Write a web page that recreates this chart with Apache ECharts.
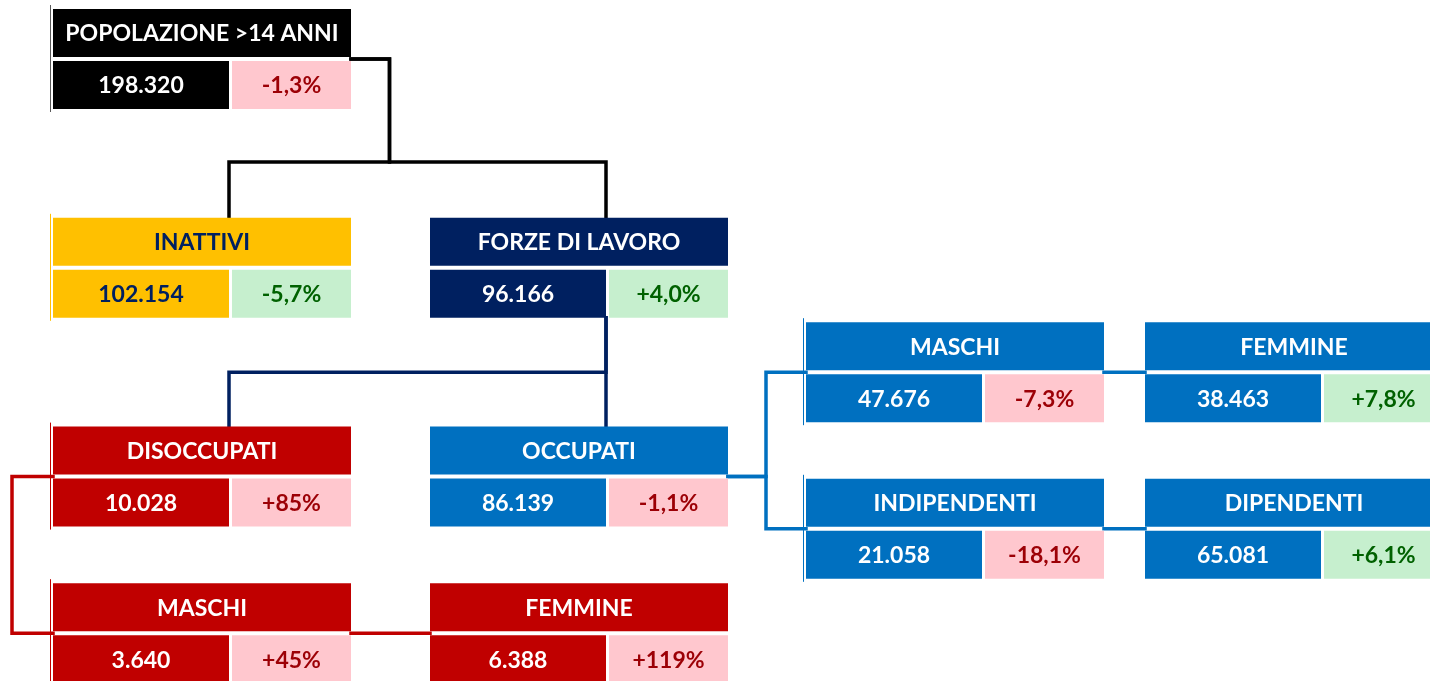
<!DOCTYPE html>
<html>
<head>
<meta charset="utf-8">
<script src="https://cdn.jsdelivr.net/npm/echarts@6/dist/echarts.min.js"></script>
<style>
html, body { margin: 0; padding: 0; background: #fff; }
#chart { width: 1430px; height: 681px; }
</style>
</head>
<body>
<div id="chart"></div>
<script>
// nodi del diagramma
const labels = ['POPOLAZIONE >14 ANNI', 'INATTIVI', 'FORZE DI LAVORO', 'DISOCCUPATI', 'OCCUPATI', 'MASCHI', 'FEMMINE', 'MASCHI', 'FEMMINE', 'INDIPENDENTI', 'DIPENDENTI'];
const values = [198320, 102154, 96166, 10028, 86139, 3640, 6388, 47676, 38463, 21058, 65081];
const changes = ['-1,3%', '-5,7%', '+4,0%', '+85%', '-1,1%', '+45%', '+119%', '-7,3%', '+7,8%', '-18,1%', '+6,1%'];
const good = [false, true, true, false, false, false, false, false, true, false, true];
const groups = ['pop', 'inattivi', 'forze', 'disocc', 'occ', 'disocc', 'disocc', 'occ', 'occ', 'occ', 'occ'];

// posizione nella griglia (colonna, riga)
const nodeCol = [0, 0, 1, 0, 1, 0, 1, 2, 3, 2, 3];
const nodeRow = [0, 4, 4, 8, 8, 11, 11, 6, 6, 9, 9];

// collegamenti: [padre, figlio, tipo]
const links = [
    [0, 1, 'bus'], [0, 2, 'bus'],
    [2, 3, 'down'], [2, 4, 'down'],
    [4, 7, 'side'], [4, 9, 'side'],
    [7, 8, 'flat'], [9, 10, 'flat'],
    [3, 5, 'left'], [5, 6, 'flat']
];

const palette = {
    pop: { bg: '#000000', text: '#ffffff', edge: '#595959' },
    inattivi: { bg: '#FFC000', text: '#002060', edge: '#FFC000' },
    forze: { bg: '#002060', text: '#ffffff', edge: '#002060' },
    disocc: { bg: '#C00000', text: '#ffffff', edge: '#C00000' },
    occ: { bg: '#0070C0', text: '#ffffff', edge: '#0070C0' }
};

// layout in pixel
const colLeft = [53, 430, 806, 1145];
const boxW = 298;
const valW = 176;
const cellH = 48;
const gap = 4;
const rowTop = 9;
const rowPitch = 52.2;

function box(i) {
    const x = colLeft[nodeCol[i]];
    const y = rowTop + nodeRow[i] * rowPitch;
    return {
        left: x,
        right: x + boxW,
        split: x + valW,
        top: y,
        mid: y + cellH + gap / 2,
        bottom: y + 2 * cellH + gap
    };
}

function fmt(v) {
    return String(v).replace(/\B(?=(\d{3})+(?!\d))/g, '.');
}

function route(l) {
    const p = box(l[0]);
    const c = box(l[1]);
    if (l[2] === 'bus') {
        const gx = p.right + (colLeft[1] - p.right) / 2 - 1;
        const by = 162;
        return [[p.right, p.mid], [gx, p.mid], [gx, by], [c.split, by], [c.split, c.top]];
    }
    if (l[2] === 'down') {
        const by = (p.bottom + c.top) / 2;
        return [[p.split, p.bottom], [p.split, by], [c.split, by], [c.split, c.top]];
    }
    if (l[2] === 'side') {
        const gx = p.right + (c.left - p.right) / 2 - 1;
        return [[p.right, p.mid], [gx, p.mid], [gx, c.mid], [c.left, c.mid]];
    }
    if (l[2] === 'left') {
        const gx = 12;
        return [[p.left, p.mid], [gx, p.mid], [gx, c.mid], [c.left, c.mid]];
    }
    return [[p.right, p.mid], [c.left, c.mid]];
}

const lineData = links.map(function (l) {
    return {
        coords: route(l),
        lineStyle: { color: palette[groups[l[0]]].bg }
    };
});

const font = 'Lato';
const fontSize = 23;

function renderBox(params, api) {
    const i = api.value(0);
    const b = box(i);
    const pal = palette[groups[i]];
    const p0 = api.coord([b.left, b.top]);
    const p1 = api.coord([b.right, b.bottom]);
    const x0 = p0[0], y0 = p0[1], x1 = p1[0], y1 = p1[1];
    const ps = api.coord([b.split, b.top])[0];
    const vy = y0 + cellH + gap;
    const children = [];
    if (nodeCol[i] === 0 || nodeCol[i] === 2) {
        children.push({
            type: 'line',
            shape: { x1: x0 - 2.5, y1: y0 - 4, x2: x0 - 2.5, y2: y1 + 3 },
            style: { stroke: pal.edge, lineWidth: 1 }
        });
    }
    children.push(
        { type: 'rect', shape: { x: x0, y: y0, width: x1 - x0, height: cellH }, style: { fill: pal.bg } },
        { type: 'rect', shape: { x: x0, y: vy, width: ps - x0, height: cellH }, style: { fill: pal.bg } },
        { type: 'rect', shape: { x: ps + 3, y: vy, width: x1 - ps - 3, height: cellH }, style: { fill: good[i] ? '#C6EFCE' : '#FFC7CE' } },
        {
            type: 'text',
            style: {
                text: labels[i], x: (x0 + x1) / 2, y: y0 + cellH / 2 + 1,
                align: 'center', verticalAlign: 'middle',
                fill: pal.text, fontFamily: font, fontWeight: 'bold', fontSize: fontSize
            }
        },
        {
            type: 'text',
            style: {
                text: fmt(values[i]), x: (x0 + ps) / 2, y: vy + cellH / 2 + 1,
                align: 'center', verticalAlign: 'middle',
                fill: pal.text, fontFamily: font, fontWeight: 'bold', fontSize: fontSize
            }
        },
        {
            type: 'text',
            style: {
                text: changes[i], x: (ps + 3 + x1) / 2, y: vy + cellH / 2 + 1,
                align: 'center', verticalAlign: 'middle',
                fill: good[i] ? '#006100' : '#9C0006', fontFamily: font, fontWeight: 'bold', fontSize: fontSize
            }
        }
    );
    return { type: 'group', children: children };
}

const chart = echarts.init(document.getElementById('chart'));
chart.setOption({
    animation: false,
    grid: { left: 0, right: 0, top: 0, bottom: 0 },
    xAxis: { type: 'value', min: 0, max: 1430, show: false },
    yAxis: { type: 'value', min: 0, max: 681, inverse: true, show: false },
    series: [
        {
            type: 'lines',
            coordinateSystem: 'cartesian2d',
            polyline: true,
            z: 1,
            lineStyle: { width: 3.5, opacity: 1, join: 'miter', cap: 'square' },
            data: lineData
        },
        {
            type: 'custom',
            z: 2,
            renderItem: renderBox,
            data: labels.map(function (d, i) { return [i]; })
        }
    ]
});
</script>
</body>
</html>
